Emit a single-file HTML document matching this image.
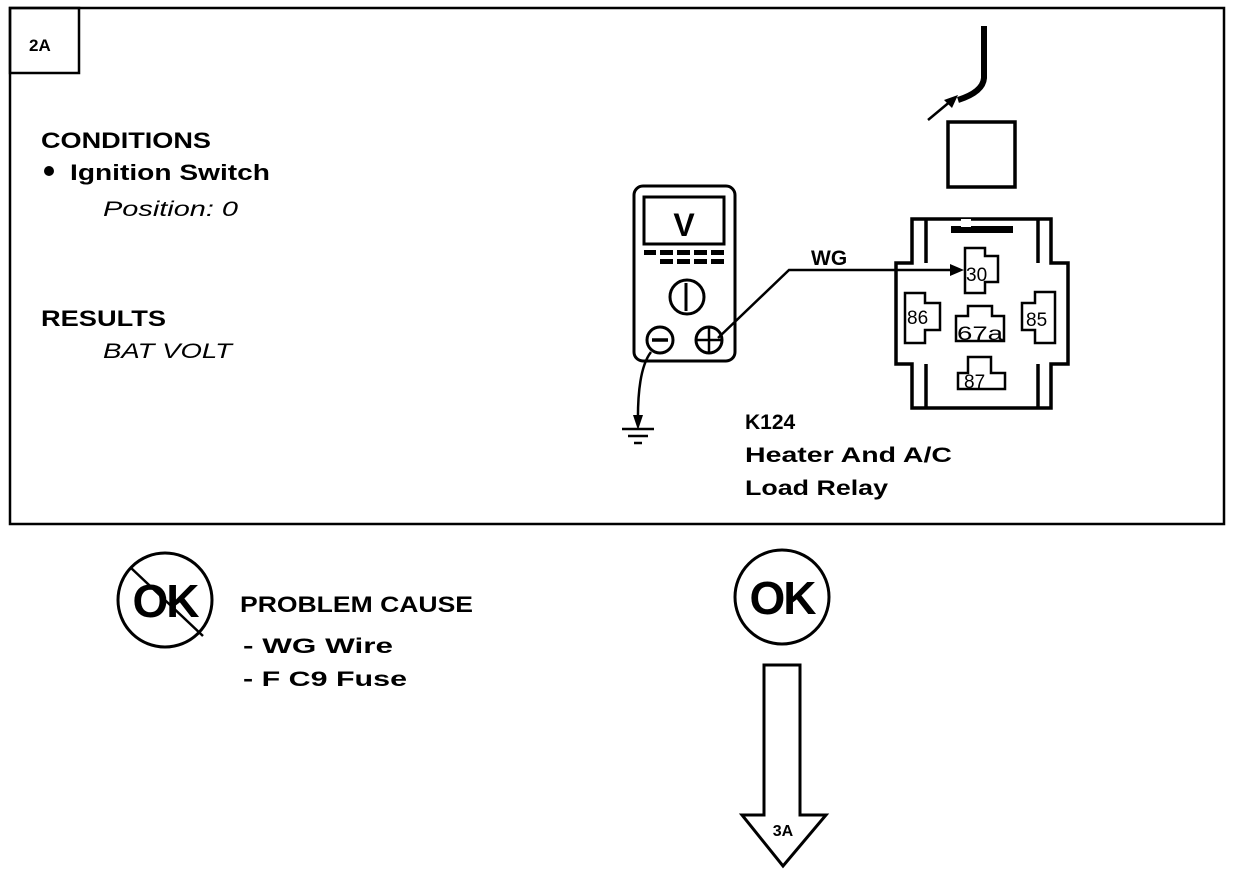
<!DOCTYPE html>
<html><head><meta charset="utf-8"><style>
html,body{margin:0;padding:0;background:#fff}
svg{display:block}
text{font-family:"Liberation Sans",Arial,sans-serif;fill:#000}
.b{font-weight:bold}
</style></head><body>
<svg width="1248" height="874" viewBox="0 0 1248 874" xmlns="http://www.w3.org/2000/svg">
<rect x="10" y="8" width="1214" height="516" fill="none" stroke="#000" stroke-width="2.5"/>
<rect x="10" y="8" width="69" height="65" fill="none" stroke="#000" stroke-width="2.5"/>
<text x="29" y="51" class="b" font-size="17">2A</text>

<text x="41" y="148" class="b" font-size="22" textLength="170" lengthAdjust="spacingAndGlyphs">CONDITIONS</text>
<circle cx="49" cy="171" r="5" fill="#000"/>
<text x="70" y="180" class="b" font-size="22" textLength="200" lengthAdjust="spacingAndGlyphs">Ignition Switch</text>
<text x="103" y="216" font-style="italic" font-size="21" textLength="135" lengthAdjust="spacingAndGlyphs">Position: 0</text>
<text x="41" y="326" class="b" font-size="22" textLength="125" lengthAdjust="spacingAndGlyphs">RESULTS</text>
<text x="103" y="358" font-style="italic" font-size="21" textLength="129" lengthAdjust="spacingAndGlyphs">BAT VOLT</text>

<!-- meter -->
<rect x="634" y="186" width="101" height="175" rx="9" fill="none" stroke="#000" stroke-width="3"/>
<rect x="644" y="197" width="80" height="47" fill="none" stroke="#000" stroke-width="3"/>
<text x="684" y="236" class="b" font-size="32" text-anchor="middle">V</text>
<g fill="#000">
<rect x="644" y="250" width="12" height="5"/><rect x="660" y="250" width="13" height="5"/><rect x="677" y="250" width="13" height="5"/><rect x="694" y="250" width="13" height="5"/><rect x="711" y="250" width="13" height="5"/>
<rect x="660" y="259" width="13" height="5"/><rect x="677" y="259" width="13" height="5"/><rect x="694" y="259" width="13" height="5"/><rect x="711" y="259" width="13" height="5"/>
</g>
<circle cx="687" cy="297" r="17" fill="none" stroke="#000" stroke-width="3"/>
<line x1="686" y1="283" x2="686" y2="311" stroke="#000" stroke-width="3"/>
<circle cx="660" cy="340" r="13" fill="none" stroke="#000" stroke-width="3"/>
<line x1="652" y1="340" x2="668" y2="340" stroke="#000" stroke-width="3.5"/>
<circle cx="709" cy="340" r="13" fill="none" stroke="#000" stroke-width="3"/>
<line x1="709" y1="328" x2="709" y2="352" stroke="#000" stroke-width="2.5"/>
<line x1="697" y1="340" x2="721" y2="340" stroke="#000" stroke-width="2.5"/>
<!-- wire WG -->
<polyline points="718,338 789,270 955,270" fill="none" stroke="#000" stroke-width="2.5"/>
<polygon points="964,270 950,264 950,276" fill="#000"/>
<text x="811" y="265" class="b" font-size="21">WG</text>
<!-- ground -->
<path d="M651,352 Q637,370 638,425" fill="none" stroke="#000" stroke-width="2.5"/>
<polygon points="638,430 633,415 643,415" fill="#000"/>
<line x1="622" y1="429" x2="654" y2="429" stroke="#000" stroke-width="2.5"/>
<line x1="628" y1="436" x2="648" y2="436" stroke="#000" stroke-width="2.5"/>
<line x1="634" y1="443" x2="642" y2="443" stroke="#000" stroke-width="2.5"/>

<!-- top wire -->
<path d="M984,26 L984,78 Q983,92 958,100" fill="none" stroke="#000" stroke-width="6"/>
<line x1="928" y1="120" x2="952" y2="100" stroke="#000" stroke-width="2.5"/>
<polygon points="958,95 944,100 952,108" fill="#000"/>
<rect x="948" y="122" width="67" height="65" fill="none" stroke="#000" stroke-width="3.5"/>

<!-- relay -->
<path d="M912,219 L1051,219 L1051,263 L1068,263 L1068,364 L1051,364 L1051,408 L912,408 L912,364 L896,364 L896,263 L912,263 Z" fill="none" stroke="#000" stroke-width="3.5"/>
<path d="M926,219 L926,263 M1038,219 L1038,263 M926,364 L926,408 M1038,364 L1038,408" fill="none" stroke="#000" stroke-width="3.5"/>
<rect x="951" y="226" width="62" height="7" fill="#000"/>
<rect x="961" y="219" width="10" height="8" fill="#fff"/>
<g fill="none" stroke="#000" stroke-width="2.5">
<path d="M965,248 L985,248 L985,256 L998,256 L998,282 L985,282 L985,293 L965,293 Z"/>
<path d="M905,293 L925,293 L925,303 L940,303 L940,330 L925,330 L925,343 L905,343 Z"/>
<path d="M968,306 L992,306 L992,316 L1004,316 L1004,341 L956,341 L956,316 L968,316 Z"/>
<path d="M1055,292 L1035,292 L1035,303 L1022,303 L1022,330 L1035,330 L1035,343 L1055,343 Z"/>
<path d="M968,357 L991,357 L991,373 L1005,373 L1005,389 L958,389 L958,373 L968,373 Z"/>
</g>
<text x="966" y="281" font-size="19">30</text>
<text x="907" y="324" font-size="19">86</text>
<text x="957" y="340" font-size="19" textLength="46" lengthAdjust="spacingAndGlyphs">67a</text>
<text x="1026" y="326" font-size="19">85</text>
<text x="964" y="388" font-size="19">87</text>

<text x="745" y="429" class="b" font-size="21">K124</text>
<text x="745" y="462" class="b" font-size="21" textLength="207" lengthAdjust="spacingAndGlyphs">Heater And A/C</text>
<text x="745" y="495" class="b" font-size="21" textLength="143" lengthAdjust="spacingAndGlyphs">Load Relay</text>

<!-- bottom -->
<circle cx="165" cy="600" r="47" fill="none" stroke="#000" stroke-width="3"/>
<text x="165" y="617" class="b" font-size="46" text-anchor="middle" letter-spacing="-2">OK</text>
<line x1="130" y1="567" x2="203" y2="636" stroke="#000" stroke-width="2.5"/>
<text x="240" y="612" class="b" font-size="22" textLength="233" lengthAdjust="spacingAndGlyphs">PROBLEM CAUSE</text>
<text x="243" y="653" class="b" font-size="21" textLength="150" lengthAdjust="spacingAndGlyphs">-  WG  Wire</text>
<text x="243" y="686" class="b" font-size="21" textLength="164" lengthAdjust="spacingAndGlyphs">-  F  C9  Fuse</text>

<circle cx="782" cy="597" r="47" fill="none" stroke="#000" stroke-width="3"/>
<text x="782" y="614" class="b" font-size="46" text-anchor="middle" letter-spacing="-2">OK</text>
<path d="M764,665 L800,665 L800,815 L826,815 L783,866 L742,815 L764,815 Z" fill="none" stroke="#000" stroke-width="3"/>
<text x="783" y="836" class="b" font-size="16" text-anchor="middle">3A</text>
</svg>
</body></html>
